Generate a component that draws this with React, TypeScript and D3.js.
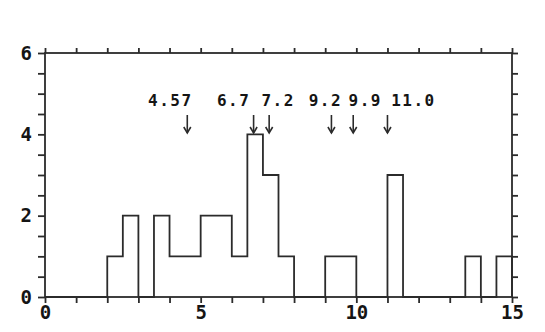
import React, { useEffect, useRef } from 'react'
import * as d3 from 'd3'

// histogram counts, one per 0.5-wide bin from 0 to 15
const binWidth = 0.5
const counts = [0, 0, 0, 0, 1, 2, 0, 2, 1, 1, 2, 2, 1, 4, 3, 1, 0, 0, 1, 1, 0, 0, 3, 0, 0, 0, 0, 1, 0, 1]

// marked values with arrows
const markValues = [4.57, 6.7, 7.2, 9.2, 9.9, 11.0]
const markLabels = ['4.57', '6.7', '7.2', '9.2', '9.9', '11.0']

const xTickLabels = [0, 5, 10, 15]
const yTickLabels = [0, 2, 4, 6]

export default function App() {
    const ref = useRef<SVGSVGElement>(null)

    useEffect(() => {
        const width = 545
        const height = 332
        const margin = { top: 53, right: 33, bottom: 35, left: 45 }
        const ink = '#2b2b2b'
        const font = '"DejaVu Sans Mono", monospace'

        const svg = d3.select(ref.current)
        svg.selectAll('*').remove()

        const x = d3.scaleLinear().domain([0, 15]).range([margin.left, width - margin.right])
        const y = d3.scaleLinear().domain([0, 6]).range([height - margin.bottom, margin.top])

        const xTicks = d3.range(0, 16, 1)
        const yTicks = d3.range(0, 6.01, 0.5)

        // bottom axis: ticks hang down, labels every 5
        svg.append('g')
            .attr('transform', `translate(0,${y(0)})`)
            .call(d3.axisBottom(x).tickValues(xTicks).tickSize(6).tickSizeOuter(0)
                .tickFormat((d: any) => xTickLabels.includes(+d) ? String(d) : ''))
            .call(g => g.select('.domain').remove())

        // top axis: ticks point up, no labels
        svg.append('g')
            .attr('transform', `translate(0,${y(6)})`)
            .call(d3.axisTop(x).tickValues(xTicks).tickSize(5).tickSizeOuter(0).tickFormat(() => ''))
            .call(g => g.select('.domain').remove())

        // left axis: ticks every 0.5, labels every 2
        svg.append('g')
            .attr('transform', `translate(${x(0)},0)`)
            .call(d3.axisLeft(y).tickValues(yTicks).tickSize(7).tickSizeOuter(0).tickPadding(6)
                .tickFormat((d: any) => yTickLabels.includes(+d) ? String(d) : ''))
            .call(g => g.select('.domain').remove())

        // right axis
        svg.append('g')
            .attr('transform', `translate(${x(15)},0)`)
            .call(d3.axisRight(y).tickValues(yTicks).tickSize(6).tickSizeOuter(0).tickFormat(() => ''))
            .call(g => g.select('.domain').remove())

        svg.selectAll('.tick line').attr('stroke', ink).attr('stroke-width', 1.8)
        svg.selectAll('.tick text')
            .attr('fill', '#151515')
            .style('font-family', font)
            .style('font-weight', 'bold')
            .style('font-size', '19px')

        // frame
        svg.append('rect')
            .attr('x', x(0))
            .attr('y', y(6))
            .attr('width', x(15) - x(0))
            .attr('height', y(0) - y(6))
            .attr('fill', 'none')
            .attr('stroke', ink)
            .attr('stroke-width', 1.8)

        // histogram outline
        const pts = counts.map((c, i) => [i * binWidth, c] as [number, number])
        pts.push([counts.length * binWidth, 0])
        const line = d3.line<[number, number]>()
            .x(d => x(d[0]))
            .y(d => y(d[1]))
            .curve(d3.curveStepAfter)

        svg.append('path')
            .attr('d', line(pts))
            .attr('fill', 'none')
            .attr('stroke', ink)
            .attr('stroke-width', 1.8)

        // arrows
        const labelDx = [-17, -20, 9, -6, 12, 26]
        const tipY = 133
        const arrows = svg.append('g')
        markValues.forEach((v, i) => {
            const ax = x(v)
            arrows.append('line')
                .attr('x1', ax).attr('x2', ax)
                .attr('y1', 115).attr('y2', tipY)
                .attr('stroke', ink).attr('stroke-width', 1.6)
            arrows.append('path')
                .attr('d', `M${ax - 3.5},${tipY - 6}L${ax},${tipY}L${ax + 3.5},${tipY - 6}`)
                .attr('fill', 'none')
                .attr('stroke', ink)
                .attr('stroke-width', 1.6)
            arrows.append('text')
                .attr('x', ax + labelDx[i])
                .attr('y', 106)
                .attr('text-anchor', 'middle')
                .attr('fill', '#151515')
                .style('font-family', font)
                .style('font-weight', 'bold')
                .style('font-size', '16px')
                .style('letter-spacing', '1.5px')
                .text(markLabels[i])
        })
    }, [])

    return (
        <svg ref={ref} width={545} height={332}
            style={{ position: 'absolute', left: 0, top: 0, background: '#fff' }} />
    )
}
